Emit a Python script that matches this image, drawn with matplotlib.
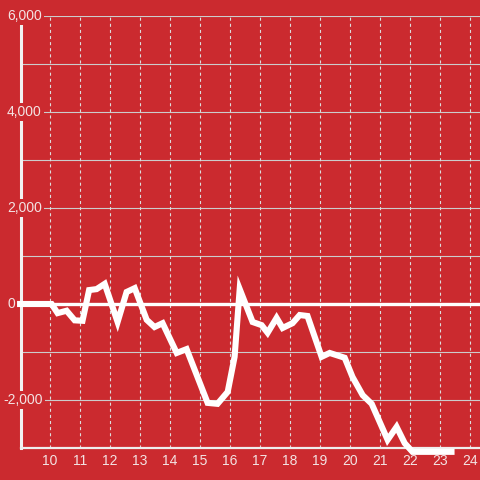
import matplotlib
matplotlib.use("Agg")
import matplotlib.pyplot as plt

hours = [9.0, 10.05, 10.25, 10.55, 10.82, 11.08, 11.3, 11.55, 11.82, 12.25, 12.55, 12.82,
         13.22, 13.48, 13.75, 14.22, 14.55, 15.25, 15.58, 15.92, 16.15, 16.32, 16.75,
         17.05, 17.25, 17.55, 17.75, 18.08, 18.32, 18.58, 19.05, 19.32, 19.82, 20.08,
         20.42, 20.72, 21.25, 21.55, 21.82, 22.08, 23.38]
values = [0, 0, -190, -140, -340, -350, 290, 310, 420, -375, 250, 330,
          -330, -480, -400, -1020, -940, -2060, -2080, -1830, -1100, 310, -375,
          -440, -600, -290, -500, -400, -230, -250, -1100, -1020, -1120, -1520,
          -1900, -2080, -2830, -2560, -2900, -3080, -3080]
x_ticks = list(range(10, 25))
y_ticks = [6000, 4000, 2000, 0, -2000]
y_grid = [6000, 5000, 4000, 3000, 2000, 1000, -1000, -2000]

bg = '#cb2a2f'
plt.rcParams['font.family'] = ['Liberation Sans', 'DejaVu Sans']
plt.rcParams['lines.scale_dashes'] = False

fig = plt.figure(figsize=(4.8, 4.8), dpi=100, facecolor=bg)
W = H = 480.0
ax = fig.add_axes([21 / W, (480 - 448) / H, (480 - 21) / W, (448 - 16) / H])
ax.set_facecolor(bg)
ax.set_xlim(9.03, 24.33)
ax.set_ylim(-3000, 6000)

for y in y_grid:
    ax.axhline(y, color='#cccccc', lw=0.8, zorder=1)
for x in x_ticks:
    ax.axvline(x, color='#dddddd', lw=0.8, dashes=(2.2, 2.2), zorder=1)
ax.axhline(0, color='white', lw=2.4, zorder=2)

ax.plot(hours, values, color='white', lw=4.4, solid_joinstyle='miter', clip_on=False, zorder=4)

for s in ['top', 'right']:
    ax.spines[s].set_visible(False)
ax.spines['left'].set_color('#f2f2f2')
ax.spines['left'].set_linewidth(2.2)
ax.spines['bottom'].set_color('#eeeeee')
ax.spines['bottom'].set_linewidth(1.6)
ax.set_yticks([])
ax.set_xticks(x_ticks)
ax.set_xticklabels([str(x) for x in x_ticks], color='#f3e3e3', fontsize=10)
ax.tick_params(axis='x', length=0, pad=4)

for y in y_ticks:
    if y < 0:
        off, ha = 22, 'right'
    else:
        off, ha = -14, 'left'
    ax.annotate(f"{y:,}", xy=(0, y), xycoords=('axes fraction', 'data'),
                xytext=(off, 0), textcoords='offset pixels', ha=ha, va='center',
                color='#f3e3e3', fontsize=10, zorder=3, annotation_clip=False,
                bbox=dict(boxstyle='square,pad=0.15', fc=bg, ec='none'))

fig.savefig('out.png', dpi=100, facecolor=bg)
